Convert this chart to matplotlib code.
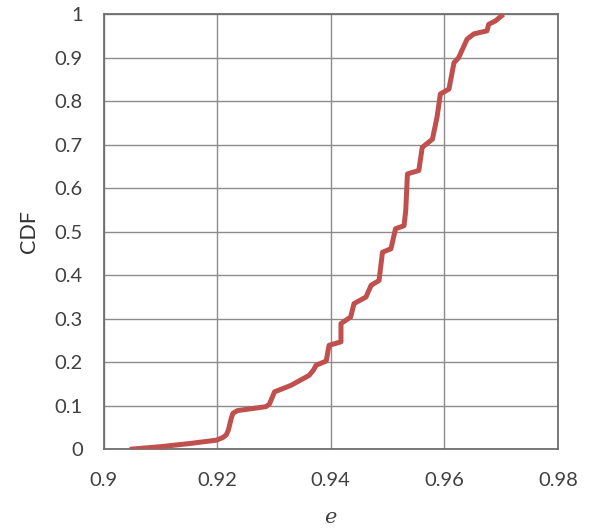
import matplotlib
matplotlib.use("Agg")
import matplotlib.pyplot as plt

# CDF curve
e_values = [0.9046, 0.9100, 0.9150, 0.9199, 0.9210, 0.9216, 0.9220, 0.9222, 0.9225,
            0.9228, 0.9236, 0.9286, 0.9292, 0.9295, 0.9301, 0.9330, 0.9362, 0.9370,
            0.9374, 0.9392, 0.9397, 0.9418, 0.9418, 0.9435, 0.9441, 0.9462, 0.9471,
            0.9485, 0.9491, 0.9506, 0.9514, 0.9529, 0.9532, 0.9535, 0.9555, 0.9561,
            0.9579, 0.9587, 0.9593, 0.9608, 0.9617, 0.9625, 0.9640, 0.9652, 0.9675,
            0.9678, 0.9690, 0.9704]
cdf_values = [0.000, 0.006, 0.013, 0.021, 0.027, 0.033, 0.045, 0.056, 0.072,
              0.083, 0.089, 0.098, 0.104, 0.113, 0.132, 0.147, 0.170, 0.183,
              0.193, 0.203, 0.239, 0.247, 0.289, 0.304, 0.335, 0.350, 0.377,
              0.388, 0.453, 0.461, 0.507, 0.514, 0.549, 0.633, 0.641, 0.694,
              0.713, 0.763, 0.817, 0.828, 0.889, 0.900, 0.943, 0.955, 0.962,
              0.977, 0.985, 1.000]

x_ticks = [0.9, 0.92, 0.94, 0.96, 0.98]
x_tick_labels = ["0.9", "0.92", "0.94", "0.96", "0.98"]
y_ticks = [0, 0.1, 0.2, 0.3, 0.4, 0.5, 0.6, 0.7, 0.8, 0.9, 1]
y_tick_labels = ["0", "0.1", "0.2", "0.3", "0.4", "0.5", "0.6", "0.7", "0.8", "0.9", "1"]

text_color = "#404040"
plt.rcParams['font.family'] = ['Lato', 'DejaVu Sans']

fig = plt.figure(figsize=(5.89, 5.28), dpi=100)
W, H = 589, 528
left, right, top, bottom = 103.5, 558, 14.3, 449.3
ax = fig.add_axes([left / W, 1 - bottom / H, (right - left) / W, (bottom - top) / H])

ax.plot(e_values, cdf_values, color="#C0504D", linewidth=3.6, solid_capstyle="butt",
        solid_joinstyle="round", zorder=3)

ax.set_xlim(0.9, 0.98)
ax.set_ylim(0, 1)
ax.set_xticks(x_ticks)
ax.set_xticklabels(x_tick_labels)
ax.set_yticks(y_ticks)
ax.set_yticklabels(y_tick_labels)
ax.tick_params(axis="both", length=0, labelsize=14.5, colors=text_color)
ax.tick_params(axis="x", pad=16)
ax.tick_params(axis="y", pad=15)

ax.grid(True, color="#8c8c8c", linewidth=1.0, zorder=1)
for s in ax.spines.values():
    s.set_color("#6f6f6f")
    s.set_linewidth(1.3)

ax.set_xlabel("e", family=["DejaVu Serif"], style="italic", fontsize=15,
              color=text_color, labelpad=14)
ax.set_ylabel("CDF", fontsize=15.5, color="#333333", labelpad=11)

fig.savefig("out.png", dpi=100, facecolor="white")
